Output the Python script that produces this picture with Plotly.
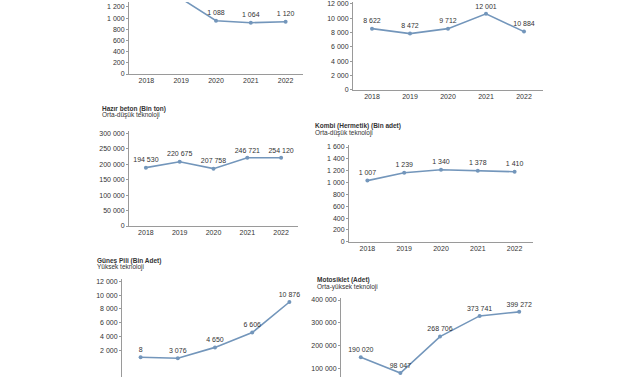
import plotly.graph_objects as go

W, H = 641, 380
years = ["2018", "2019", "2020", "2021", "2022"]

# Panel values (read from plotted positions) and data-label texts
p1_values = [1600, 1350, 953, 918, 935]
p1_labels = ["", "", "1 088", "1 064", "1 120"]
p2_values = [8552, 7862, 8552, 10621, 8138]
p2_labels = ["8 622", "8 472", "9 712", "12 001", "10 884"]
p3_values = [188500, 207700, 185300, 220400, 220400]
p3_labels = ["194 530", "220 675", "207 758", "246 721", "254 120"]
p4_values = [1033, 1167, 1217, 1200, 1183]
p4_labels = ["1 007", "1 239", "1 340", "1 378", "1 410"]
p5_values = [1000, 860, 2430, 4570, 9000]
p5_labels = ["8", "3 076", "4 650", "6 606", "10 876"]
p6_values = [147800, 78000, 239000, 330000, 348000]
p6_labels = ["190 020", "98 047", "268 706", "373 741", "399 272"]

p1_ticks = [0, 200, 400, 600, 800, 1000, 1200]
p2_ticks = [0, 2000, 4000, 6000, 8000, 10000, 12000]
p3_ticks = [0, 50000, 100000, 150000, 200000, 250000, 300000]
p4_ticks = [0, 200, 400, 600, 800, 1000, 1200, 1400, 1600]
p5_ticks = [2000, 4000, 6000, 8000, 10000, 12000]
p6_ticks = [100000, 200000, 300000, 400000]

titles = [
    ("Hazır beton (Bin ton)", "Orta-düşük teknoloji", 100, 108),
    ("Kombi (Hermetik) (Bin adet)", "Orta-düşük teknoloji", 313, 126),
    ("Güneş Pili (Bin Adet)", "Yüksek teknoloji", 95, 262),
    ("Motosiklet (Adet)", "Orta-yüksek teknoloji", 315, 282),
]

FONT = "Liberation Sans Narrow, Arial Narrow, Liberation Sans, sans-serif"
LINE = "#7396bb"
AX = "#9a9a9a"

def fx(px):
    return px / W

def fy(py):
    return 1 - py / H

panels = [
    # values, labels, ticks, x-domain px, y-domain px (bottom, top), yrange, show x labels
    (p1_values, p1_labels, p1_ticks, (129, 303), (73, 0), (0, 1288), True),
    (p2_values, p2_labels, p2_ticks, (353, 543), (89, 0), (0, 12276), True),
    (p3_values, p3_labels, p3_ticks, (129, 298), (227, 131), (0, 306000), True),
    (p4_values, p4_labels, p4_ticks, (349, 533), (243, 145), (0, 1633), True),
    (p5_values, p5_labels, p5_ticks, (122, 308), (380, 281), (-1857, 12286), False),
    (p6_values, p6_labels, p6_ticks, (341, 539), (380, 300), (60870, 408700), False),
]

fig = go.Figure()
layout = {}
for i, (vals, labs, ticks, xd, yd, yr, showx) in enumerate(panels, start=1):
    sfx = "" if i == 1 else str(i)
    fig.add_trace(go.Scatter(
        x=years, y=vals, text=labs, mode="lines+markers+text",
        textposition="top center",
        textfont=dict(size=7, color="#333", family=FONT),
        line=dict(color=LINE, width=1.6),
        marker=dict(size=4, color=LINE),
        xaxis="x" + sfx, yaxis="y" + sfx, showlegend=False,
        hoverinfo="skip",
    ))
    layout["xaxis" + sfx] = dict(
        domain=[fx(xd[0]), fx(xd[1])], anchor="y" + sfx, type="category",
        range=[-0.5, 4.5], showline=showx, linecolor=AX, linewidth=1,
        showgrid=False, zeroline=False, ticks="", showticklabels=showx,
        tickfont=dict(size=7, color="#333", family=FONT),
    )
    layout["yaxis" + sfx] = dict(
        domain=[fy(yd[0]), fy(yd[1])], anchor="x" + sfx, range=list(yr),
        tickvals=ticks, tickformat=",d", showline=True, linecolor=AX,
        linewidth=1, showgrid=False, zeroline=False, ticks="outside",
        ticklen=2, tickcolor=AX,
        tickfont=dict(size=7, color="#333", family=FONT),
    )

annotations = []
for t, sub, px, py in titles:
    annotations.append(dict(
        x=fx(px), y=fy(py), xref="paper", yref="paper", xanchor="left",
        yanchor="middle", showarrow=False, align="left",
        text="<b>" + t + "</b>",
        font=dict(size=6.5, color="#333", family=FONT),
    ))
    annotations.append(dict(
        x=fx(px), y=fy(py + 7), xref="paper", yref="paper", xanchor="left",
        yanchor="middle", showarrow=False, align="left",
        text=sub,
        font=dict(size=6.5, color="#333", family=FONT),
    ))

fig.update_layout(
    width=W, height=H, margin=dict(l=0, r=0, t=0, b=0),
    paper_bgcolor="white", plot_bgcolor="white",
    separators=", ", annotations=annotations,
    font=dict(family=FONT, size=7, color="#333"),
    hovermode=False,
    **layout,
)

fig.write_html(
    "out.html",
    config={"displayModeBar": False, "staticPlot": True},
    post_script="document.body.style.margin='0';document.body.style.overflow='hidden';",
)
